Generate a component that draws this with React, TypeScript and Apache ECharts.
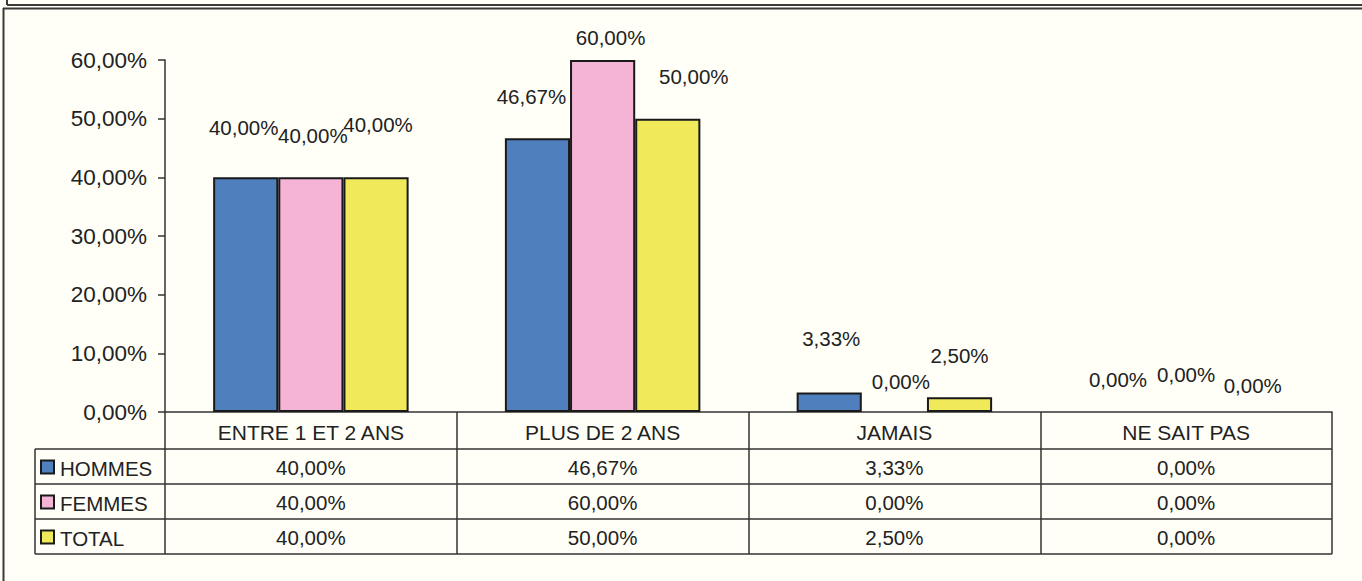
import React, { useEffect, useRef } from "react";
import * as echarts from "echarts";

const categories = ["ENTRE 1 ET 2 ANS", "PLUS DE 2 ANS", "JAMAIS", "NE SAIT PAS"];
const seriesNames = ["HOMMES", "FEMMES", "TOTAL"];
const hommes = [0.4, 0.4667, 0.0333, 0];
const femmes = [0.4, 0.6, 0, 0];
const total = [0.4, 0.5, 0.025, 0];
const seriesValues = [hommes, femmes, total];
const seriesColors = ["#4f7fbd", "#f5b3d6", "#f0ea5a"];

// label nudges (styling, Excel-like placement of data labels)
const labelNudges = [
  [[-2, -39], [-6, -31], [2, -43.5], [-3, -22.5]],
  [[2, -31], [8, -12], [6.5, -20.5], [0, -27]],
  [[2, -42], [26, -32], [0, -31], [1.5, -16.5]],
];

const W = 1362;
const H = 581;
const GRID_LEFT = 165;
const GRID_RIGHT = 1332;
const GRID_TOP = 60;
const AXIS_Y = 412;
const ROW_LINES = [449, 484, 519, 554];
const TABLE_LEFT = 35;
const LINE = "#333333";
const TEXT = "#222222";
const FONT = "'Liberation Sans', Arial, sans-serif";

const fmt = (v: number) => (v * 100).toFixed(2).replace(".", ",") + "%";

export default function App() {
  const ref = useRef<HTMLDivElement>(null);
  useEffect(() => {
    if (!ref.current) return;
    const chart = echarts.init(ref.current, undefined, { renderer: "svg" });
    chart.setOption({
      animation: false,
      backgroundColor: "#fffff8",
      textStyle: { fontFamily: FONT },
      grid: {
        left: GRID_LEFT,
        right: W - GRID_RIGHT,
        top: GRID_TOP,
        bottom: H - AXIS_Y,
        containLabel: false,
      },
      xAxis: {
        type: "category",
        data: categories,
        axisLine: { show: true, lineStyle: { color: LINE, width: 1.5 } },
        axisTick: {
          show: true,
          alignWithLabel: false,
          inside: false,
          length: ROW_LINES[3] - AXIS_Y,
          lineStyle: { color: LINE, width: 1.5 },
        },
        axisLabel: {
          show: true,
          interval: 0,
          margin: 10,
          fontSize: 21,
          color: TEXT,
          fontFamily: FONT,
        },
        splitLine: { show: false },
      },
      yAxis: {
        type: "value",
        min: 0,
        max: 0.6,
        interval: 0.1,
        axisLine: { show: true, lineStyle: { color: LINE, width: 1.5 } },
        axisTick: { show: true, length: 7, lineStyle: { color: LINE, width: 1.5 } },
        axisLabel: {
          formatter: (v: number) => fmt(v),
          fontSize: 22.5,
          color: TEXT,
          margin: 18,
          fontFamily: FONT,
        },
        splitLine: { show: false },
      },
      series: seriesNames.map((name, s) => ({
        type: "bar",
        name,
        barGap: "0%",
        barCategoryGap: "33%",
        itemStyle: { color: seriesColors[s], borderColor: "#1a1a1a", borderWidth: 2 },
        label: {
          show: true,
          position: "top",
          distance: 0,
          fontSize: 20.5,
          color: TEXT,
          fontFamily: FONT,
          formatter: (p: any) => fmt(p.value),
        },
        data: seriesValues[s].map((v, i) => ({
          value: v,
          itemStyle:
            v === 0
              ? { borderWidth: 0, borderColor: "transparent", color: "transparent" }
              : undefined,
          label: { offset: labelNudges[s][i] },
        })),
      })),
    });

    const centers = categories.map((c) => chart.convertToPixel({ xAxisIndex: 0 }, c) as number);
    const rowCenters = [0, 1, 2].map((r) => (ROW_LINES[r] + ROW_LINES[r + 1]) / 2);
    const elements: any[] = [];
    // frames
    const frameStyle = { stroke: "#3a3a3a", lineWidth: 2 };
    elements.push({ type: "line", shape: { x1: 7, y1: 5, x2: W, y2: 5 }, style: frameStyle });
    elements.push({ type: "line", shape: { x1: 7, y1: 0, x2: 7, y2: 5 }, style: frameStyle });
    elements.push({ type: "line", shape: { x1: 3, y1: 8.5, x2: W, y2: 8.5 }, style: frameStyle });
    elements.push({ type: "line", shape: { x1: 3.5, y1: 8, x2: 3.5, y2: H }, style: frameStyle });
    // table lines
    const tStyle = { stroke: LINE, lineWidth: 1.5 };
    ROW_LINES.forEach((y) => {
      elements.push({ type: "line", shape: { x1: TABLE_LEFT, y1: y, x2: GRID_RIGHT, y2: y }, style: tStyle });
    });
    elements.push({
      type: "line",
      shape: { x1: TABLE_LEFT, y1: ROW_LINES[0], x2: TABLE_LEFT, y2: ROW_LINES[3] },
      style: tStyle,
    });
    // legend keys and names
    seriesNames.forEach((name, s) => {
      const cy = rowCenters[s];
      elements.push({
        type: "rect",
        shape: { x: 41, y: cy - 6, width: 13, height: 13 },
        style: { fill: seriesColors[s], stroke: "#1a1a1a", lineWidth: 2 },
      });
      elements.push({
        type: "text",
        x: 60,
        y: cy + 2,
        style: {
          text: name,
          fontSize: 20.5,
          fontFamily: FONT,
          fill: TEXT,
          align: "left",
          verticalAlign: "middle",
        },
      });
      seriesValues[s].forEach((v, i) => {
        elements.push({
          type: "text",
          x: centers[i],
          y: cy + 1,
          style: {
            text: fmt(v),
            fontSize: 20.5,
            fontFamily: FONT,
            fill: TEXT,
            align: "center",
            verticalAlign: "middle",
          },
        });
      });
    });
    chart.setOption({ graphic: { elements } });

    return () => chart.dispose();
  }, []);
  return (
    <div
      ref={ref}
      style={{ position: "absolute", left: 0, top: 0, width: W, height: H }}
    />
  );
}
